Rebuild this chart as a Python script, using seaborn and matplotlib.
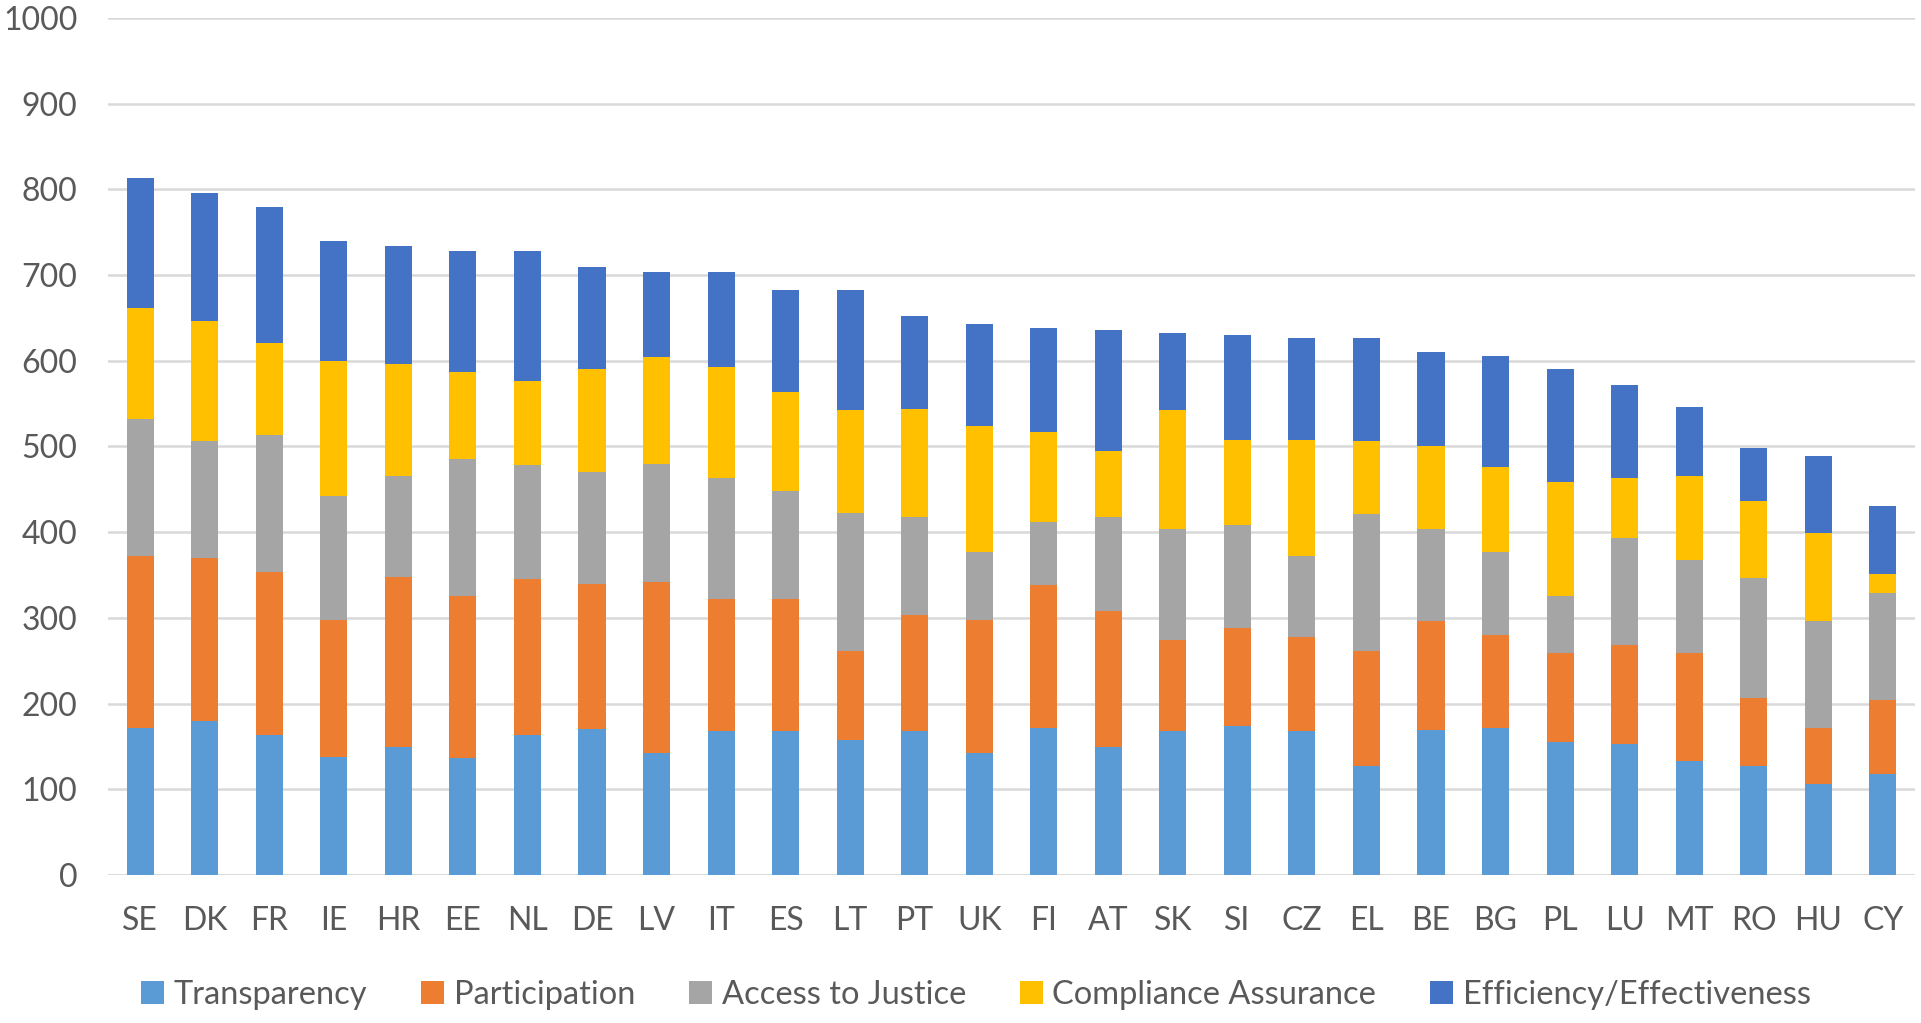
import matplotlib
matplotlib.use("Agg")
import matplotlib.pyplot as plt
from matplotlib.patches import Patch
import seaborn as sns
import numpy as np
import pandas as pd

countries = ["SE", "DK", "FR", "IE", "HR", "EE", "NL", "DE", "LV", "IT", "ES", "LT", "PT", "UK",
             "FI", "AT", "SK", "SI", "CZ", "EL", "BE", "BG", "PL", "LU", "MT", "RO", "HU", "CY"]
transparency = [172, 180, 163, 138, 149, 136, 163, 170, 142, 168, 168, 157, 168, 142,
                172, 149, 168, 174, 168, 127, 169, 172, 155, 153, 133, 127, 106, 118]
participation = [200, 190, 190, 160, 199, 189, 182, 170, 200, 154, 154, 104, 135, 156,
                 166, 159, 106, 114, 110, 134, 127, 108, 104, 115, 126, 79, 66, 86]
access_justice = [160, 136, 160, 144, 118, 160, 133, 130, 138, 141, 126, 161, 115, 79,
                  74, 110, 130, 120, 94, 160, 108, 97, 66, 125, 109, 141, 124, 125]
compliance = [130, 141, 108, 158, 130, 102, 98, 121, 124, 130, 115, 121, 126, 147,
              105, 77, 139, 100, 136, 85, 96, 99, 134, 70, 98, 89, 103, 22]
efficiency = [151, 149, 159, 140, 138, 141, 152, 119, 100, 111, 120, 140, 108, 119,
              121, 141, 89, 122, 119, 121, 110, 130, 132, 109, 80, 62, 90, 80]

series_names = ["Transparency", "Participation", "Access to Justice",
                "Compliance Assurance", "Efficiency/Effectiveness"]
series_colors = ["#5B9BD5", "#ED7D31", "#A5A5A5", "#FFC000", "#4472C4"]

sns.set_style("white")
plt.rcParams["font.family"] = ["Lato", "DejaVu Sans"]
text_color = "#595959"

df = pd.DataFrame({"country": countries, "Transparency": transparency,
                   "Participation": participation, "Access to Justice": access_justice,
                   "Compliance Assurance": compliance,
                   "Efficiency/Effectiveness": efficiency})
cum = df[series_names].cumsum(axis=1)

fig = plt.figure(figsize=(19.21, 10.23), dpi=100)
ax = fig.add_axes([0.0562, 0.1447, 0.9407, 0.8377])

for name, color in reversed(list(zip(series_names, series_colors))):
    sns.barplot(x=df["country"], y=cum[name], color=color, order=countries,
                width=0.42, errorbar=None, saturation=1, ax=ax, zorder=3,
                linewidth=0)

ax.set_ylim(0, 1000)
ax.set_xlim(-0.5, len(countries) - 0.5)
ax.set_yticks(np.arange(0, 1001, 100))
ax.yaxis.grid(True, color="#D9D9D9", linewidth=1.8, zorder=0)
ax.set_axisbelow(True)
for s in ["top", "right", "left", "bottom"]:
    ax.spines[s].set_visible(False)
ax.axhline(0, color="#D9D9D9", linewidth=1.8, zorder=2)
ax.set_xlabel("")
ax.set_ylabel("")
ax.tick_params(axis="both", length=0, labelsize=23, labelcolor=text_color)
ax.tick_params(axis="x", pad=22)
ax.yaxis.set_tick_params(pad=22)

handles = [Patch(facecolor=c, edgecolor="none", label=n)
           for n, c in zip(series_names, series_colors)]
leg = fig.legend(handles=handles, loc="lower center", bbox_to_anchor=(0.508, -0.016),
                 ncol=5, frameon=False, fontsize=23.5, handlelength=0.7,
                 handleheight=0.7, handletextpad=0.3, columnspacing=1.65)
for t in leg.get_texts():
    t.set_color(text_color)

fig.savefig("out.png", dpi=100)
